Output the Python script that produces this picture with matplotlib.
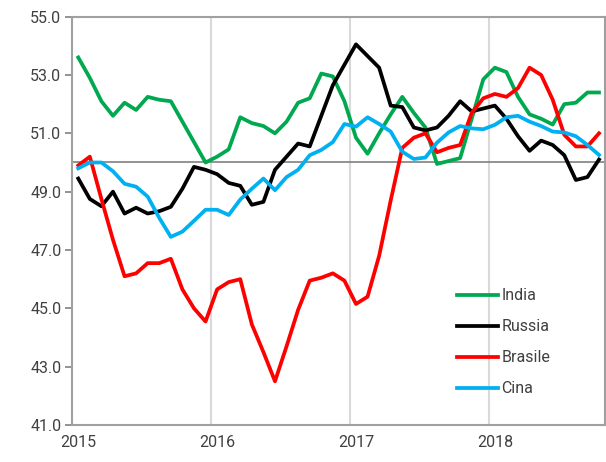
import matplotlib.pyplot as plt
import numpy as np

plt.rcParams['font.family'] = ['Roboto', 'DejaVu Sans']

# monthly PMI, Jan 2015 - Oct 2018
india = [53.6, 52.9, 52.1, 51.6, 52.05, 51.8, 52.25, 52.15, 52.1, 51.4,
         50.7, 50.0, 50.2, 50.45, 51.55, 51.35, 51.25, 51.0, 51.4, 52.05,
         52.2, 53.05, 52.95, 52.1, 50.85, 50.3, 51.0, 51.65, 52.25, 51.7,
         51.2, 49.95, 50.05, 50.15, 51.5, 52.85, 53.25, 53.1, 52.25, 51.65,
         51.5, 51.3, 52.0, 52.05, 52.4, 52.4]
russia = [49.45, 48.75, 48.5, 49.0, 48.25, 48.45, 48.25, 48.33, 48.48, 49.1,
          49.85, 49.75, 49.6, 49.3, 49.2, 48.55, 48.65, 49.75, 50.2, 50.65,
          50.55, 51.6, 52.65, 53.35, 54.05, 53.65, 53.25, 51.95, 51.9, 51.2,
          51.1, 51.2, 51.6, 52.1, 51.75, 51.85, 51.95, 51.5, 50.9, 50.4,
          50.75, 50.6, 50.25, 49.4, 49.5, 50.1]
brasile = [49.9, 50.2, 48.75, 47.35, 46.1, 46.2, 46.55, 46.55, 46.7, 45.65,
           45.0, 44.55, 45.65, 45.9, 46.0, 44.45, 43.5, 42.5, 43.7, 44.95,
           45.95, 46.05, 46.2, 45.95, 45.15, 45.4, 46.8, 48.7, 50.5, 50.85,
           51.0, 50.35, 50.5, 50.6, 51.7, 52.2, 52.35, 52.25, 52.55, 53.25,
           53.0, 52.15, 50.95, 50.55, 50.55, 51.0]
cina = [49.8, 50.0, 50.0, 49.7, 49.27, 49.17, 48.83, 48.1, 47.45, 47.63,
        48.0, 48.38, 48.38, 48.2, 48.73, 49.1, 49.45, 49.05, 49.5, 49.75,
        50.25, 50.43, 50.7, 51.32, 51.23, 51.55, 51.32, 51.06, 50.37, 50.12,
        50.17, 50.68, 51.03, 51.25, 51.17, 51.14, 51.29, 51.55, 51.6, 51.4,
        51.25, 51.06, 51.03, 50.9, 50.6, 50.26]
years = ['2015', '2016', '2017', '2018']

x = np.arange(len(india))

fig = plt.figure(figsize=(6.06, 4.62), dpi=100)
ax = fig.add_axes([0.1196, 0.080, 0.8784, 0.884])

# year separators and the 50 threshold
for xv in [11.5, 23.5, 35.5]:
    ax.axvline(xv, color='#d9d9d9', lw=1.5, zorder=1)
ax.axhline(50, color='#808080', lw=1.2, zorder=1)

lw = 2.7
ax.plot(x, india, color='#00a84f', lw=lw, label='India', zorder=3)
ax.plot(x, russia, color='#000000', lw=lw, label='Russia', zorder=3)
ax.plot(x, brasile, color='#ff0000', lw=lw, label='Brasile', zorder=3)
ax.plot(x, cina, color='#00b0f0', lw=lw, label='Cina', zorder=3)

ax.set_xlim(-0.5, 45.5)
ax.set_ylim(41, 55)
ax.set_yticks(np.arange(41, 56, 2))
ax.set_yticklabels([f'{v:.1f}' for v in np.arange(41, 56, 2)])
ax.set_xticks([0, 12, 24, 36])
ax.set_xticklabels(years)

ax.tick_params(axis='y', length=5, width=1.2, color='#808080',
               labelsize=11.5, labelcolor='#404040', pad=3)
ax.tick_params(axis='x', length=0, labelsize=11.5, labelcolor='#404040', pad=7)
for s in ax.spines.values():
    s.set_color('#a0a0a0')
    s.set_linewidth(1.5)

ax.legend(loc='lower left', bbox_to_anchor=(0.695, 0.035), frameon=False,
          fontsize=11.5, handlelength=2.6, handletextpad=0.2, labelspacing=1.0,
          labelcolor='#404040')

fig.savefig('out.png', dpi=100)
